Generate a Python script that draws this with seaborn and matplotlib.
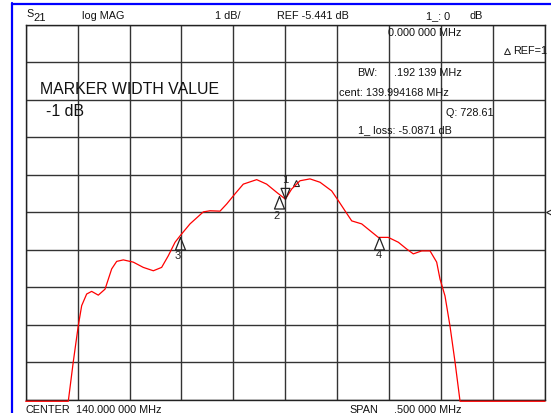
import numpy as np
import pandas as pd
import matplotlib
matplotlib.use("Agg")
import matplotlib.pyplot as plt
from matplotlib.lines import Line2D
from matplotlib.path import Path
from matplotlib.transforms import Bbox, TransformedBbox
import seaborn as sns

# trace (MHz, dB)
freq_mhz = [139.7500, 139.7910, 139.7958, 139.8006, 139.8039, 139.8087, 139.8135, 139.8199, 139.8264, 139.8328,
            139.8376, 139.8440, 139.8536, 139.8632, 139.8729, 139.8809, 139.8873, 139.8938, 139.8986, 139.9082,
            139.9210, 139.9275, 139.9371, 139.9435, 139.9515, 139.9595, 139.9724, 139.9820, 139.9917, 140.0000,
            140.0061, 140.0141, 140.0237, 140.0334, 140.0446, 140.0510, 140.0574, 140.0639, 140.0735, 140.0815,
            140.0895, 140.0991, 140.1088, 140.1168, 140.1232, 140.1313, 140.1393, 140.1457, 140.1489, 140.1537,
            140.1585, 140.1634, 140.1682, 140.2500]
s21_db = [-10.48, -10.48, -9.43, -8.47, -7.93, -7.62, -7.55, -7.65, -7.49, -6.95,
          -6.75, -6.71, -6.77, -6.91, -7.00, -6.91, -6.60, -6.24, -6.07, -5.75,
          -5.43, -5.40, -5.41, -5.22, -4.95, -4.69, -4.57, -4.69, -4.91, -5.09,
          -4.82, -4.60, -4.55, -4.64, -4.87, -5.13, -5.40, -5.67, -5.75, -5.93,
          -6.11, -6.11, -6.24, -6.42, -6.55, -6.47, -6.47, -6.77, -7.22, -7.67,
          -8.47, -9.44, -10.48, -10.48]

# markers
marker_names = ["2", "3", "4"]
marker_freq = [139.994168, 139.898098, 140.090238]
marker_db = [-5.00, -6.087, -6.087]
m1_freq = 140.0
m1_db = -5.0871

center = 140.0
span = 0.5
ref_db = -5.441
db_per_div = 1.0

sns.set_theme(style="white")
plt.rcParams['font.family'] = ['Liberation Sans', 'DejaVu Sans']

W, H = 551, 414
fig = plt.figure(figsize=(W / 100, H / 100), dpi=100)
fig.patch.set_facecolor("white")

def fx(x):
    return x / W

def fy(y):
    return 1 - y / H

ax = fig.add_axes([fx(25.7), fy(400.8), fx(545) - fx(25.7), fy(25.8) - fy(400.8)])

df = pd.DataFrame({"freq": freq_mhz, "db": s21_db})
sns.lineplot(data=df, x="freq", y="db", ax=ax, color="#ff0000", lw=0.9,
             estimator=None, sort=False, clip_on=False, zorder=3)

ax.set_xlim(center - span / 2, center + span / 2)
ax.set_ylim(ref_db - 5 * db_per_div, ref_db + 5 * db_per_div)
ax.set_xticks(np.linspace(center - span / 2, center + span / 2, 11))
ax.set_yticks(np.linspace(ref_db - 5 * db_per_div, ref_db + 5 * db_per_div, 11))
ax.tick_params(length=0, labelbottom=False, labelleft=False)
ax.grid(True, color="#333333", lw=1.0)
ax.set_axisbelow(True)
ax.set_xlabel("")
ax.set_ylabel("")
for s in ax.spines.values():
    s.set_color("#222222")
    s.set_linewidth(1.0)

# triangle markers with apex on the trace
up_tri = Path([(0, 0), (-0.4, -1), (0.4, -1), (0, 0)])
down_tri = Path([(0, 0), (-0.4, 1), (0.4, 1), (0, 0)])
offsets = {"2": (-3, -19), "3": (-2, -18), "4": (0, -17)}
for name, f, d in zip(marker_names, marker_freq, marker_db):
    ax.plot([f], [d], marker=up_tri, ms=18, mfc="none", mec="#222222", mew=0.9, ls="none", zorder=4)
    ax.annotate(name, (f, d), xytext=offsets[name], textcoords="offset pixels",
                ha="center", va="center", fontsize=8, color="#222222")
ax.plot([m1_freq], [m1_db], marker=down_tri, ms=16, mfc="none", mec="#222222", mew=0.9, ls="none", zorder=4)
ax.annotate("1", (m1_freq, m1_db), xytext=(0, 20), textcoords="offset pixels",
            ha="center", va="center", fontsize=8, color="#222222")
ax.plot([m1_freq], [m1_db], marker="^", ms=5, mfc="none", mec="#222222", mew=0.8, ls="none",
        transform=ax.transData + matplotlib.transforms.ScaledTranslation(11 / 100, 16 / 100, fig.dpi_scale_trans))

# reference position arrow at the right edge
fig.add_artist(Line2D([fx(548.5)], [fy(213.3)], marker="<", ms=4, mfc="none", mec="#222222",
                      mew=0.8, transform=fig.transFigure))

# blue window border
fig.add_artist(Line2D([fx(12), fx(12)], [fy(4), 0], color="#0000ff", lw=1.6, transform=fig.transFigure))
fig.add_artist(Line2D([fx(12), 1], [fy(5), fy(5)], color="#0000ff", lw=1.6, transform=fig.transFigure))

fs = 7.8
txt_color = "#111111"

def put(x, y, s, size=fs, **kw):
    return fig.text(fx(x), fy(y), s, fontsize=size, color=txt_color, ha="left", va="center", **kw)

# header
put(26, 14, "S")
put(33, 18, "21", size=8)
put(81.5, 16, "log MAG")
put(215, 16, "1 dB/")
put(277, 16, "REF -5.441 dB")
put(426, 16, "1_: 0")
put(470, 16, "dB")

# marker readouts
put(388.5, 33, "0.000 000 MHz")
fig.add_artist(Line2D([fx(507)], [fy(52)], marker="^", ms=4, mfc="none", mec="#222222",
                      mew=0.7, transform=fig.transFigure))
put(513, 51.5, "REF=1")
put(357.5, 73.5, "BW:")
put(394, 73.5, ".192 139 MHz")
put(339, 92.5, "cent: 139.994168 MHz")
q = put(446, 112.5, "Q: 728.61")
q.set_clip_box(TransformedBbox(Bbox.from_extents(0, 0, fx(497), 1), fig.transFigure))
put(358.5, 130, "1_ loss: -5.0871 dB")

put(40, 90, "MARKER WIDTH VALUE", size=11.4)
put(46, 112, "-1 dB", size=11.4)

# footer
put(25, 410.5, "CENTER")
put(76.5, 410.5, "140.000 000 MHz")
put(349, 410.5, "SPAN")
put(394, 410.5, ".500 000 MHz")

fig.savefig("out.png", dpi=100, facecolor="white")
